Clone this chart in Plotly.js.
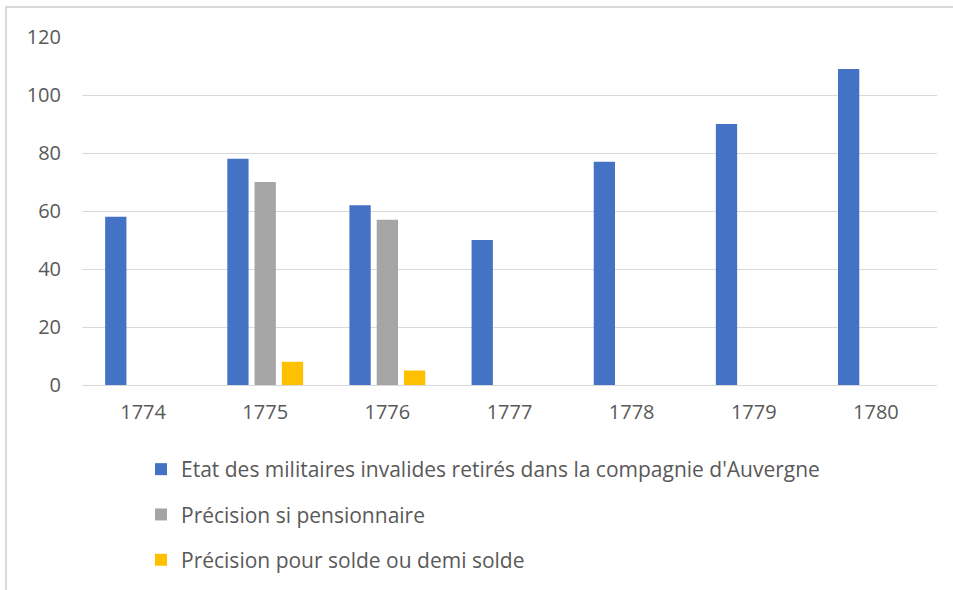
<!DOCTYPE html>
<html>
<head>
<meta charset="utf-8">
<script src="https://cdn.plot.ly/plotly-3.0.1.min.js"></script>
<style>
  html, body { margin: 0; padding: 0; background: #fff; }
  #wrap { position: relative; width: 953px; height: 590px; overflow: hidden; }
  #frame { position: absolute; left: 5px; top: 6px; width: 1000px; height: 700px; border: 2px solid #d9d9d9; box-sizing: border-box; pointer-events: none; }
  #chart { position: absolute; left: 0; top: 0; width: 953px; height: 590px; }
</style>
</head>
<body>
<div id="wrap">
  <div id="chart"></div>
  <div id="frame"></div>
</div>
<script>
const years = ["1774", "1775", "1776", "1777", "1778", "1779", "1780"];
const seriesNames = [
  "Etat des militaires invalides retirés dans la compagnie d'Auvergne",
  "Précision si pensionnaire",
  "Précision pour solde ou demi solde"
];
const invalides = [58, 78, 62, 50, 77, 90, 109];
const pensionnaire = [null, 70, 57, null, null, null, null];
const solde = [null, 8, 5, null, null, null, null];
const colors = ["#4472C4", "#A5A5A5", "#FFC000"];
const yTicks = [0, 20, 40, 60, 80, 100, 120];

const values = [invalides, pensionnaire, solde];
const traces = values.map((v, i) => ({
  type: "bar",
  name: seriesNames[i],
  x: years,
  y: v,
  marker: { color: colors[i], line: { width: 0 } },
  legendgroup: "g" + i,
  hoverinfo: "x+y+name"
}));

const font = "'Open Sans', sans-serif";
const fs = 20;
const layout = {
  width: 953,
  height: 590,
  margin: { l: 82, r: 16, t: 37, b: 205, autoexpand: false },
  paper_bgcolor: "#ffffff",
  plot_bgcolor: "#ffffff",
  font: { family: font, size: fs, color: "#595959" },
  barmode: "group",
  bargap: 0.33,
  bargroupgap: 0.22,
  xaxis: {
    type: "category",
    automargin: false,
    tickangle: 0,
    showgrid: false,
    showline: true,
    linecolor: "#d9d9d9",
    linewidth: 1,
    ticks: "",
    ticklabelstandoff: 9,
    tickfont: { family: font, size: fs, color: "#595959" },
    zeroline: false
  },
  yaxis: {
    range: [0, 120],
    automargin: false,
    tickvals: yTicks,
    ticktext: yTicks.map(String),
    showgrid: true,
    gridcolor: "#d9d9d9",
    gridwidth: 1,
    zeroline: false,
    showline: false,
    ticks: "",
    ticklabelstandoff: 20,
    tickfont: { family: font, size: fs, color: "#595959" }
  },
  showlegend: true,
  legend: {
    orientation: "v",
    xref: "container",
    yref: "container",
    x: 141 / 953,
    xanchor: "left",
    y: 1 - 449 / 590,
    yanchor: "top",
    traceorder: "grouped",
    tracegroupgap: 15,
    font: { family: font, size: 21, color: "#595959" },
    bgcolor: "rgba(0,0,0,0)",
    itemclick: false,
    itemdoubleclick: false
  }
};

Plotly.newPlot("chart", traces, layout, { displayModeBar: false, staticPlot: true });
</script>
</body>
</html>
